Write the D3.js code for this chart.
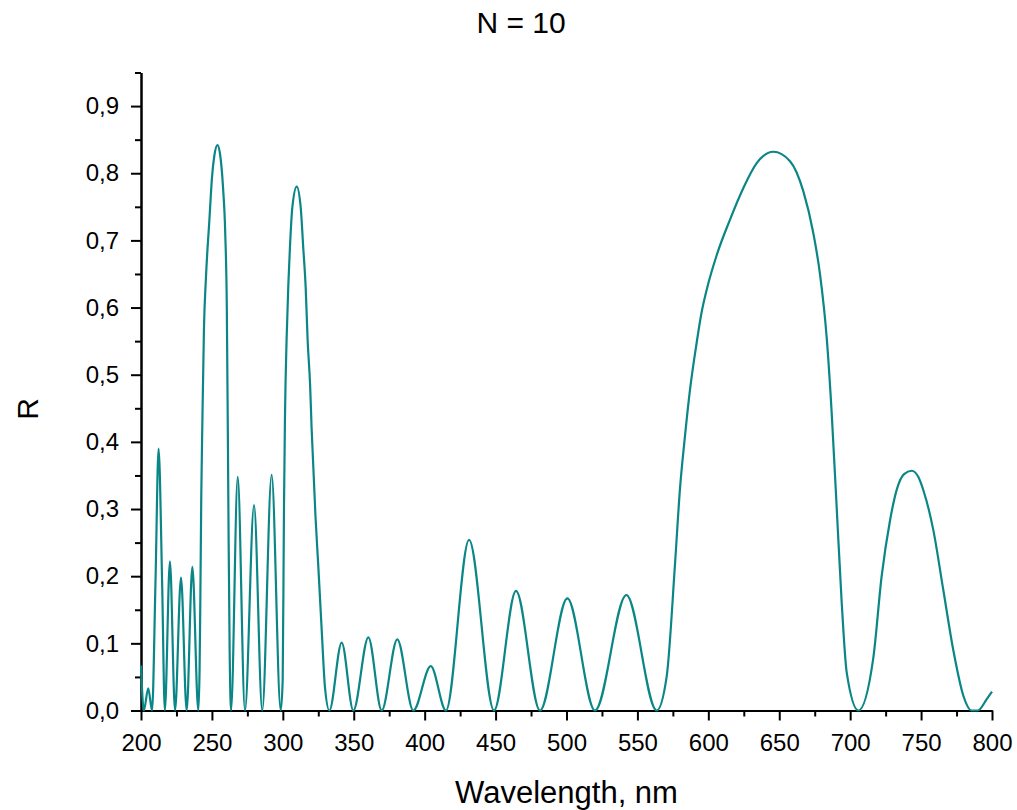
<!DOCTYPE html>
<html>
<head>
<meta charset="utf-8">
<script src="https://cdn.jsdelivr.net/npm/d3@7"></script>
<style>
  body { margin: 0; background: #fff; }
  svg { display: block; font-family: "Liberation Sans", Arial, sans-serif; }
  .axis path, .axis line { stroke: #000; stroke-width: 2; }
  .axis text { font-size: 24px; fill: #000; }
</style>
</head>
<body>
<div id="chart"></div>
<script>
const WIDTH = 1017, HEIGHT = 810;
const LEFT = 141, RIGHT = 992, TOP = 72.5, BOTTOM = 710.5;

// wavelength (nm) / reflectance
var wavelength = [
    200, 202, 205.1, 207.8, 210.2, 212.4, 214.9, 216.8,
    220.4, 224.0, 228.2, 232.2, 236.2, 240.4,
    241.3, 241.9, 242.5, 243.2, 244.4, 245.8, 248.2, 250.1, 251.7, 253.9,
    255.7, 257.8, 259.4, 260.5, 261.2, 261.8, 262.5, 263.5,
    268.2, 273.3, 279.7, 285.5, 292.1, 298.5,
    299.9, 300.8, 301.5, 302.7, 303.9, 305.0, 306.7, 309.8,
    312.6, 314.4, 316.1, 317.5, 319.2, 320.3, 323.0, 325.0, 327.4, 329.7, 332.8,
    341.5, 349.7, 360.3, 369.7, 380.7, 392.0, 404.3, 415.0,
    431.3, 448.9, 464.4, 481.3, 500.6, 520.1, 542.2, 563.6,
    570.6, 576.5, 580.0, 583.6, 587.1, 591.8, 595.0, 598.9, 605.9, 615.3, 624.7, 634.1,
    645.8, 657.6, 667.0, 674.0, 678.7, 683.5, 687.0, 690.5, 694.0, 697.6, 705.8,
    716.3, 722.2, 728.1, 733.0, 738.0, 743.4, 748.0, 751.6, 758.6, 765.7, 772.7, 779.8,
    785.6, 790.0, 796.3, 800
];
var reflectance = [
    0.067, 0, 0.033, 0, 0.19, 0.39, 0.19, 0,
    0.222, 0, 0.198, 0, 0.214, 0,
    0.06, 0.18, 0.32, 0.42, 0.57, 0.645, 0.73, 0.795, 0.826, 0.842,
    0.829, 0.78, 0.71, 0.60, 0.42, 0.25, 0.09, 0,
    0.348, 0, 0.306, 0, 0.351, 0,
    0.045, 0.30, 0.436, 0.556, 0.635, 0.689, 0.749, 0.78,
    0.749, 0.689, 0.63, 0.551, 0.486, 0.42, 0.29, 0.215, 0.12, 0.035, 0,
    0.101, 0, 0.109, 0, 0.106, 0, 0.066, 0,
    0.254, 0, 0.178, 0, 0.167, 0, 0.172, 0,
    0.05, 0.218, 0.33, 0.41, 0.478, 0.548, 0.59, 0.627, 0.678, 0.731, 0.778, 0.815,
    0.832, 0.818, 0.773, 0.711, 0.65, 0.554, 0.442, 0.302, 0.162, 0.056, 0,
    0.078, 0.20, 0.283, 0.33, 0.352, 0.357, 0.348, 0.328, 0.269, 0.179, 0.09, 0.022,
    0, 0, 0.017, 0.028
];

var xTicks = [200, 250, 300, 350, 400, 450, 500, 550, 600, 650, 700, 750, 800];
var xMinorTicks = [225, 275, 325, 375, 425, 475, 525, 575, 625, 675, 725, 775];
var yTicks = [0, 0.1, 0.2, 0.3, 0.4, 0.5, 0.6, 0.7, 0.8, 0.9];
var yMinorTicks = [0.05, 0.15, 0.25, 0.35, 0.45, 0.55, 0.65, 0.75, 0.85, 0.95];

var commaFormat = d3.formatLocale({decimal: ",", thousands: " ", grouping: [3], currency: ["", ""]}).format(".1f");

var draw = function () {
    var svg = d3.select("#chart").append("svg")
        .attr("width", WIDTH)
        .attr("height", HEIGHT);

    var xScale = d3.scaleLinear().domain([200, 800]).range([LEFT, RIGHT]);
    var yScale = d3.scaleLinear().domain([0, 0.95]).range([BOTTOM, TOP]);

    // minor ticks first, majors on top
    svg.append("g")
        .attr("class", "axis")
        .attr("transform", "translate(0," + BOTTOM + ")")
        .call(d3.axisBottom(xScale).tickValues(xMinorTicks).tickSize(6).tickSizeOuter(0).tickFormat(""));
    svg.append("g")
        .attr("class", "axis")
        .attr("transform", "translate(0," + BOTTOM + ")")
        .call(d3.axisBottom(xScale).tickValues(xTicks).tickSize(10).tickSizeOuter(0).tickPadding(13));

    svg.append("g")
        .attr("class", "axis")
        .attr("transform", "translate(" + LEFT + ",0)")
        .call(d3.axisLeft(yScale).tickValues(yMinorTicks).tickSize(6).tickSizeOuter(0).tickFormat(""));
    svg.append("g")
        .attr("class", "axis")
        .attr("transform", "translate(" + LEFT + ",0)")
        .call(d3.axisLeft(yScale).tickValues(yTicks).tickSize(10).tickSizeOuter(0).tickPadding(12).tickFormat(commaFormat));

    var points = wavelength.map(function (w, i) { return [w, reflectance[i]]; });
    var line = d3.line()
        .x(function (d) { return xScale(d[0]); })
        .y(function (d) { return yScale(d[1]); })
        .curve(d3.curveMonotoneX);

    svg.append("path")
        .attr("d", line(points))
        .attr("fill", "none")
        .attr("stroke", "#0b8686")
        .attr("stroke-width", 2.2)
        .attr("stroke-linejoin", "round");

    svg.append("text")
        .attr("x", 521)
        .attr("y", 33)
        .attr("text-anchor", "middle")
        .style("font-size", "30px")
        .text("N = 10");

    svg.append("text")
        .attr("x", (LEFT + RIGHT) / 2)
        .attr("y", 803)
        .attr("text-anchor", "middle")
        .style("font-size", "31px")
        .text("Wavelength, nm");

    svg.append("text")
        .attr("transform", "translate(38,409) rotate(-90)")
        .attr("text-anchor", "middle")
        .style("font-size", "30px")
        .text("R");
};

window.onload = draw;
</script>
</body>
</html>
